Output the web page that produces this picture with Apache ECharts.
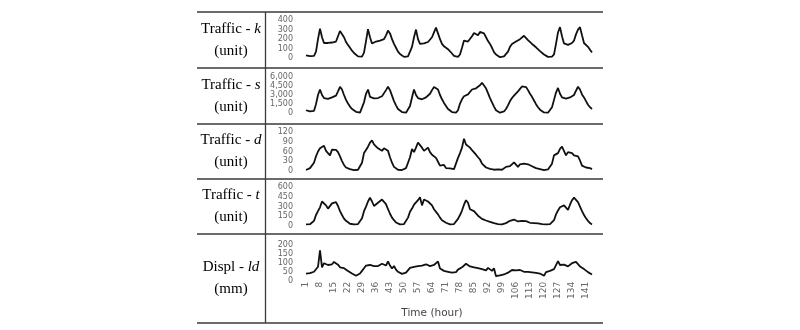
<!DOCTYPE html>
<html><head><meta charset="utf-8">
<script src="https://cdn.jsdelivr.net/npm/echarts@6/dist/echarts.min.js"></script>
<style>html,body{margin:0;padding:0;background:#fff}#c{width:800px;height:330px}</style>
</head><body><div id="c"></div><script>
const hours = [1,2,3,4,5,6,7,8,9,10,11,12,13,14,15,16,17,18,19,20,21,22,23,24,25,26,27,28,29,30,31,32,33,34,35,36,37,38,39,40,41,42,43,44,45,46,47,48,49,50,51,52,53,54,55,56,57,58,59,60,61,62,63,64,65,66,67,68,69,70,71,72,73,74,75,76,77,78,79,80,81,82,83,84,85,86,87,88,89,90,91,92,93,94,95,96,97,98,99,100,101,102,103,104,105,106,107,108,109,110,111,112,113,114,115,116,117,118,119,120,121,122,123,124,125,126,127,128,129,130,131,132,133,134,135,136,137,138,139,140,141,142,143,144];

const trafficK = [30,28,22,20,25,70,200,310,220,160,150,160,155,165,170,175,230,285,270,220,170,140,110,80,
55,35,20,15,18,60,180,305,220,155,165,175,175,185,190,200,240,290,260,200,150,110,70,45,
25,15,12,20,35,120,220,300,200,150,160,155,150,170,190,220,270,320,260,200,150,125,110,95,
75,50,25,15,15,40,110,185,180,175,190,230,265,250,240,275,295,260,220,180,150,110,65,40,
20,12,12,20,35,70,120,150,165,175,190,200,210,235,215,190,170,150,135,115,95,75,55,40,
25,15,12,18,40,150,270,325,230,155,145,140,150,160,185,250,300,325,240,160,140,120,90,60];

const trafficS = [500,400,300,220,400,1500,3000,3900,3000,2500,2300,2350,2400,2600,2750,2900,3600,4350,3900,3000,2200,1600,1100,700,
500,250,150,100,400,1800,3200,3900,2700,2500,2450,2400,2500,2650,2800,3100,3800,4350,3800,2900,2000,1300,700,400,
200,100,100,300,1200,2600,3900,3000,2500,2350,2300,2400,2600,2800,3200,3800,4300,4600,3900,3000,2300,1700,1200,700,
400,200,100,100,500,1600,2300,2800,3000,3100,3400,3900,4000,4100,4300,4600,5000,4700,4100,3300,2500,1800,1100,500,
200,100,100,300,700,1300,2000,2500,2900,3200,3600,4000,4400,4600,4300,3800,3200,2700,2100,1500,1000,600,300,150,
100,100,300,1000,2200,3400,4150,3200,2600,2450,2400,2500,2600,2700,3000,3700,4350,3900,3100,2600,2000,1400,1000,700];

const trafficD = [2,4,8,12,25,45,60,70,76,78,62,55,48,66,64,65,58,45,30,18,10,7,5,3,
2,2,3,5,25,55,65,75,88,95,82,76,70,74,62,70,68,62,42,25,12,6,3,2,
2,3,8,25,42,68,58,72,88,80,72,62,68,72,58,50,45,40,28,16,10,18,8,12,
7,10,5,8,40,55,72,100,82,78,72,64,58,50,42,35,22,16,10,8,6,4,3,3,
4,5,3,6,12,6,14,20,26,22,12,20,15,22,18,20,19,14,10,8,6,5,3,2,
2,4,10,22,48,52,55,68,75,70,48,58,60,55,48,52,45,32,16,12,10,10,8,5];

const trafficT = [25,25,28,35,80,170,230,290,380,410,320,270,300,350,375,370,310,230,170,115,80,50,35,28,
25,25,30,50,120,230,300,380,440,380,310,330,360,390,410,400,340,260,190,130,90,55,35,25,
25,30,60,130,220,270,330,350,400,445,320,410,400,380,350,320,260,230,180,130,90,70,50,35,
26,25,30,60,110,170,240,330,400,360,260,250,230,200,160,130,110,95,85,75,65,55,45,38,
30,28,25,35,45,55,80,100,100,80,70,75,80,75,75,70,50,45,45,45,40,30,28,25,
25,25,30,45,90,180,240,290,310,320,300,250,330,400,440,420,370,300,230,170,120,80,45,25];

const displLd = [40,40,42,45,50,60,78,170,75,98,90,88,85,92,105,108,90,75,72,70,62,55,45,40,
32,28,35,40,55,70,85,90,88,85,82,85,82,88,95,90,85,108,85,68,82,62,50,42,
38,36,45,55,72,75,78,80,82,88,85,80,92,88,82,85,88,82,108,68,62,55,52,50,
48,45,42,48,62,70,75,85,95,85,80,78,75,72,70,68,65,60,58,72,62,55,70,25,
28,30,32,35,40,45,55,60,65,58,55,60,55,50,52,50,48,47,45,44,42,40,38,28,
48,52,55,60,65,75,110,88,85,90,82,80,90,98,102,105,95,80,72,65,55,48,40,35];

const seriesData = [trafficK, trafficS, trafficD, trafficT, displLd];
const rowPrefix = ['Traffic - ', 'Traffic - ', 'Traffic - ', 'Traffic - ', 'Displ - '];
const rowVar = ['k', 's', 'd', 't', 'ld'];
const rowUnit = ['(unit)', '(unit)', '(unit)', '(unit)', '(mm)'];
const yMax = [400, 6000, 120, 600, 200];
const yStep = [100, 1500, 30, 150, 50];
const xAxisTitle = 'Time (hour)';

// layout
const gridTop = [20, 76.7, 132.3, 187.3, 245];
const gridH = [38.3, 36.6, 38.4, 38.7, 35.7];
const tableY = [12, 68, 124, 179, 234, 323];
const rowMid = [40, 96, 151.5, 206.5, 278.5];

const chart = echarts.init(document.getElementById('c'));
const grids = [], xAxes = [], yAxes = [], series = [], graphics = [];
for (let i = 0; i < 5; i++) {
  grids.push({left: 306, width: 286, top: gridTop[i], height: gridH[i]});
  xAxes.push({
    type: 'category', gridIndex: i, data: hours, boundaryGap: false,
    axisLine: {show: false}, axisTick: {show: false},
    axisLabel: i === 4 ? {show: true, interval: 6, rotate: 90, margin: 1, fontFamily: 'DejaVu Sans', fontSize: 9, color: '#666'} : {show: false}
  });
  yAxes.push({
    type: 'value', gridIndex: i, min: 0, max: yMax[i], interval: yStep[i],
    axisLine: {show: false}, axisTick: {show: false}, splitLine: {show: false},
    axisLabel: {margin: 13, fontFamily: 'DejaVu Sans', fontSize: 8, color: '#666',
      formatter: v => v.toLocaleString('en-US')}
  });
  series.push({
    type: 'line', xAxisIndex: i, yAxisIndex: i, data: seriesData[i],
    symbol: 'none', smooth: false, animation: false,
    lineStyle: {color: '#111', width: 1.8}
  });
  graphics.push({
    type: 'text', x: 231, y: rowMid[i],
    style: {
      text: '{a|' + rowPrefix[i] + '}{b|' + rowVar[i] + '}\n{a|' + rowUnit[i] + '}',
      align: 'center', verticalAlign: 'middle',
      rich: {
        a: {fontFamily: 'Liberation Serif', fontSize: 15, lineHeight: 22, fill: '#000', align: 'center'},
        b: {fontFamily: 'Liberation Serif', fontSize: 15, lineHeight: 22, fontStyle: 'italic', fill: '#000'}
      }
    }
  });
}
for (let j = 0; j < tableY.length; j++) {
  graphics.push({type: 'line', shape: {x1: 197, y1: tableY[j], x2: 603, y2: tableY[j]},
    style: {stroke: '#3a3a3a', lineWidth: 1.3}});
}
graphics.push({type: 'line', shape: {x1: 265.5, y1: tableY[0], x2: 265.5, y2: tableY[5]},
  style: {stroke: '#3a3a3a', lineWidth: 1.3}});
graphics.push({type: 'text', x: 432, y: 313,
  style: {text: xAxisTitle, align: 'center', verticalAlign: 'middle', fontFamily: 'DejaVu Sans', fontSize: 10.5, fill: '#444'}});

chart.setOption({
  animation: false,
  grid: grids, xAxis: xAxes, yAxis: yAxes, series: series, graphic: graphics
});
</script></body></html>
